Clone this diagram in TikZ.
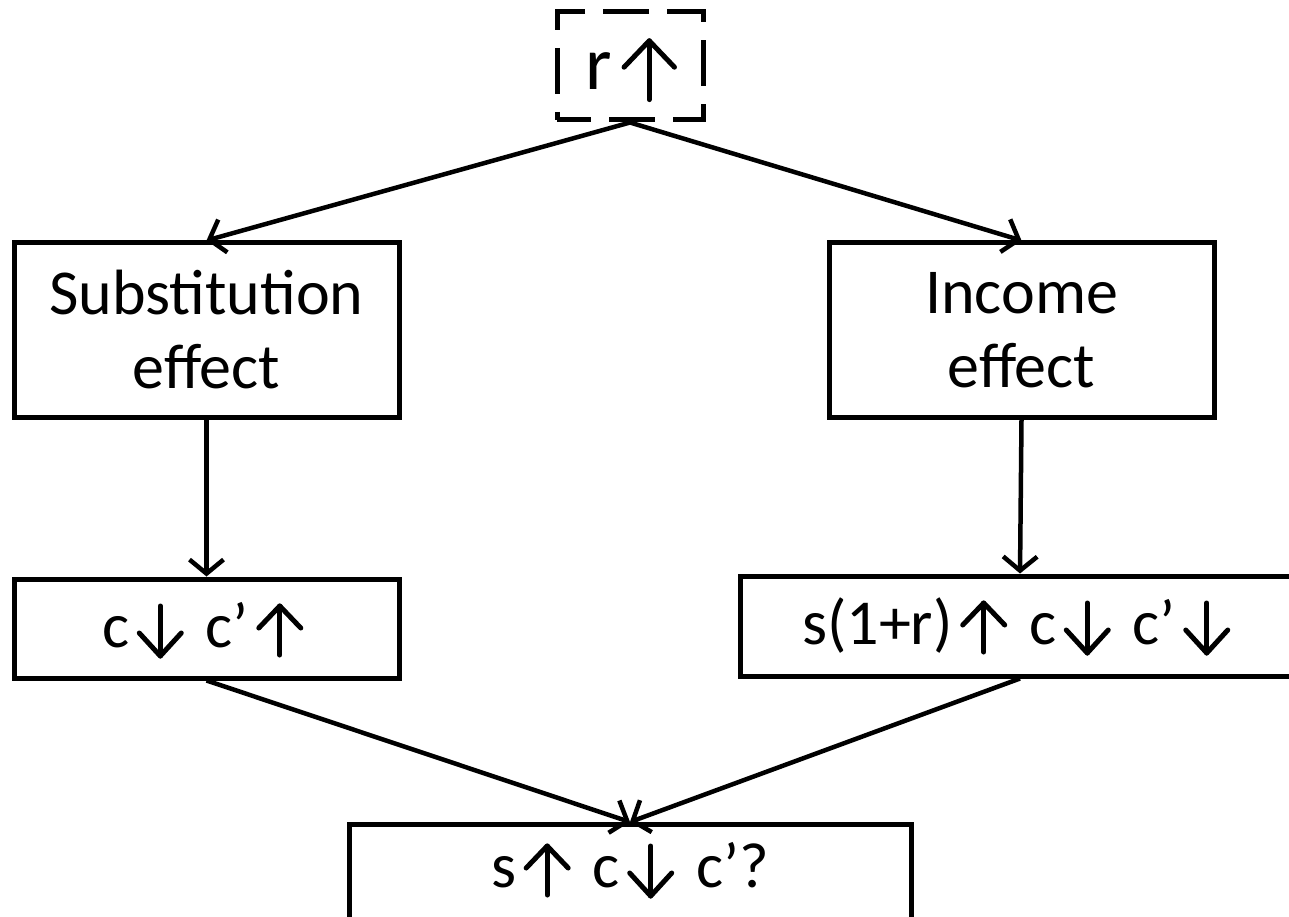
\documentclass[tikz,border=0pt]{standalone}
\usepackage{fontspec}
\setmainfont{Carlito}
\usetikzlibrary{arrows.meta}
\tikzset{
  glyph/.style={baseline=0pt, x=1pt, y=1pt, solid, line width=5pt, line cap=round, line join=round},
  box/.style={draw, line width=5pt, rectangle, inner sep=0pt, align=center,
    font=\fontsize{64}{74}\selectfont},
  lbl/.style={inner sep=0pt, font=\fontsize{64}{74}\selectfont},
  arr/.style={line width=4.5pt, -{Straight Barb[length=14pt,width=34pt,line width=4.5pt]}},
}
\newcommand{\ua}[1][1]{\tikz[glyph,scale=#1]{\path[use as bounding box] (-31,-9) rectangle (31,42); \draw (0,-8)--(0,41); \draw (-21,19)--(0,41)--(21,19);}}
\newcommand{\da}[1][1]{\tikz[glyph,scale=#1]{\path[use as bounding box] (-31,-9) rectangle (31,42); \draw (0,41)--(0,-9); \draw (-21,14)--(0,-9)--(21,14);}}
\begin{document}
\begin{tikzpicture}[x=1pt,y=-1pt]
\useasboundingbox (0,0) rectangle (1289,917);
\clip (0,0) rectangle (1289,917);
\fill[white] (0,0) rectangle (1289,917);
\node[box, font=\fontsize{76}{88}\selectfont, text height=52pt, text depth=4pt, dash pattern=on 46pt off 18pt, dash phase=12pt, minimum width=146pt, minimum height=108pt] (r) at (630,66) {r\ua[1.2]\hspace*{-12pt}};
\node[box, minimum width=385pt, minimum height=174pt] (sub) at (206.5,330) {Substitution\\effect};
\node[box, minimum width=385pt, minimum height=174pt] (inc) at (1021.5,330) {Income\\effect};
\node[box, text height=42pt, text depth=5pt, minimum width=385pt, minimum height=99pt] (c1) at (206.5,628.5) {c\da{} c’\ua};
\node[box, text height=42pt, text depth=6pt, minimum width=560pt, minimum height=100pt] (c2) at (1020,626) {s(1+r)\ua{} c\da{} c’\da};
\node[box, anchor=north, minimum width=562pt, minimum height=160pt] (bot) at (630,822) {};
\node[lbl, anchor=base] (bottxt) at (630,887) {s\ua{} c\da{} c’?};
\draw[arr] (r.south) -- (sub.north);
\draw[arr] (r.south) -- (inc.north);
\draw[arr] (sub.south) -- (c1.north);
\draw[arr] (inc.south) -- (c2.north);
\draw[arr] (c1.south) -- (bot.north);
\draw[arr] (c2.south) -- (bot.north);
\end{tikzpicture}
\end{document}
